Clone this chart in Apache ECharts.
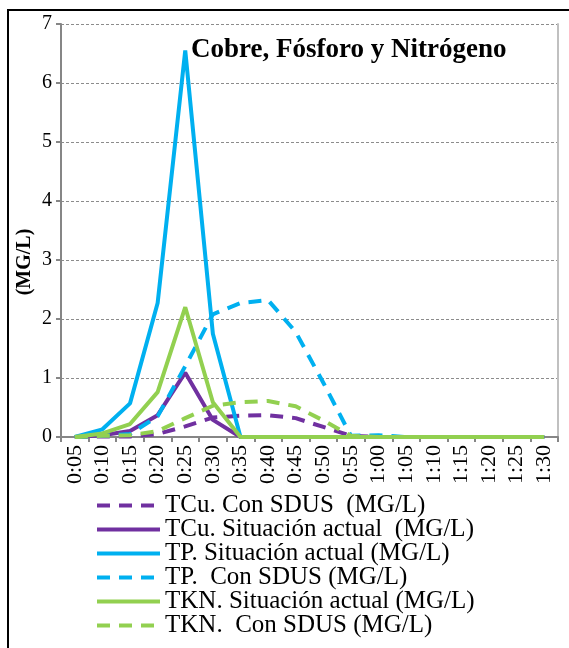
<!DOCTYPE html>
<html>
<head>
<meta charset="utf-8">
<script src="https://cdn.jsdelivr.net/npm/echarts@6/dist/echarts.min.js"></script>
<style>
  html, body { margin: 0; padding: 0; background: #fff; }
  #main { width: 569px; height: 648px; }
</style>
</head>
<body>
<div id="main"></div>
<script>
var times = ['0:05', '0:10', '0:15', '0:20', '0:25', '0:30', '0:35', '0:40', '0:45',
  '0:50', '0:55', '1:00', '1:05', '1:10', '1:15', '1:20', '1:25', '1:30'];

var tcuSdus = [0, 0.01, 0.01, 0.05, 0.18, 0.33, 0.36, 0.37, 0.32, 0.17, 0.02, 0, 0, 0, 0, 0, 0, 0];
var tcuActual = [0, 0.03, 0.1, 0.37, 1.09, 0.29, 0, 0, 0, 0, 0, 0, 0, 0, 0, 0, 0, 0];
var tpActual = [0, 0.13, 0.57, 2.27, 6.55, 1.75, 0, 0, 0, 0, 0, 0, 0, 0, 0, 0, 0, 0];
var tpSdus = [0, 0.02, 0.05, 0.35, 1.2, 2.08, 2.27, 2.32, 1.78, 0.92, 0.02, 0.03, 0, 0, 0, 0, 0, 0];
var tknActual = [0, 0.06, 0.22, 0.76, 2.2, 0.59, 0, 0, 0, 0, 0, 0, 0, 0, 0, 0, 0, 0];
var tknSdus = [0, 0.02, 0.03, 0.1, 0.32, 0.53, 0.59, 0.61, 0.52, 0.28, 0.02, 0, 0, 0, 0, 0, 0, 0];

var yTicks = [0, 1, 2, 3, 4, 5, 6, 7];

var purple = '#7030A0';
var cyan = '#00B0F0';
var green = '#92D050';
var serif = 'Liberation Serif';
var dash = [13, 9];

function line(name, data, color, dashed) {
  return {
    name: name,
    type: 'line',
    data: data,
    symbol: 'none',
    lineStyle: { color: color, width: 4, type: dashed ? dash : 'solid' },
    itemStyle: { color: color }
  };
}

var chart = echarts.init(document.getElementById('main'));
var option = {
  animation: false,
  title: {
    text: 'Cobre, Fósforo y Nitrógeno',
    left: 191,
    top: 37,
    padding: 0,
    textStyle: { fontFamily: serif, fontWeight: 'bold', fontSize: 27, color: '#000' }
  },
  grid: { left: 61, right: 11, top: 24, bottom: 211 },
  legend: {
    orient: 'vertical',
    left: 95,
    top: 493,
    padding: 0,
    itemWidth: 63,
    itemHeight: 14,
    itemGap: -1,
    itemStyle: { opacity: 0 },
    lineStyle: { width: 4 },
    textStyle: { fontFamily: serif, fontSize: 25, lineHeight: 24, color: '#000' },
    data: ['TCu. Con SDUS  (MG/L)', 'TCu. Situación actual  (MG/L)', 'TP. Situación actual (MG/L)',
      'TP.  Con SDUS (MG/L)', 'TKN. Situación actual (MG/L)', 'TKN.  Con SDUS (MG/L)']
  },
  xAxis: {
    type: 'category',
    data: times,
    boundaryGap: true,
    axisLine: { lineStyle: { color: '#868686', width: 2 } },
    axisTick: { show: true, length: 5, lineStyle: { color: '#868686', width: 2 } },
    axisLabel: { rotate: 90, margin: 8, fontFamily: serif, fontSize: 22, color: '#000', interval: 0 },
    splitLine: { show: false }
  },
  yAxis: [{
    type: 'value',
    min: yTicks[0],
    max: yTicks[yTicks.length - 1],
    interval: 1,
    axisLine: { show: true, lineStyle: { color: '#868686', width: 2 } },
    axisTick: { show: true, length: 5, lineStyle: { color: '#868686', width: 2 } },
    axisLabel: { margin: 9, fontFamily: serif, fontSize: 20, color: '#000' },
    splitLine: { show: true, lineStyle: { color: '#8c8c8c', width: 1, type: [3, 2] } }
  }, {
    type: 'value',
    position: 'right',
    min: 0,
    max: 7,
    interval: 1,
    axisLine: { show: true, lineStyle: { color: '#c0c0c0', width: 2 } },
    axisTick: { show: false },
    axisLabel: { show: false },
    splitLine: { show: false }
  }],
  graphic: [{
    type: 'rect',
    shape: { x: 8, y: 10, width: 700, height: 800 },
    style: { fill: 'none', stroke: '#000', lineWidth: 2 },
    silent: true
  }, {
    type: 'text',
    x: 25,
    y: 262,
    rotation: Math.PI / 2,
    style: {
      text: '(MG/L)',
      font: 'bold 20px "Liberation Serif"',
      fill: '#000',
      align: 'center',
      verticalAlign: 'middle'
    }
  }],
  series: [
    line('TCu. Con SDUS  (MG/L)', tcuSdus, purple, true),
    line('TCu. Situación actual  (MG/L)', tcuActual, purple, false),
    line('TP. Situación actual (MG/L)', tpActual, cyan, false),
    line('TP.  Con SDUS (MG/L)', tpSdus, cyan, true),
    line('TKN. Situación actual (MG/L)', tknActual, green, false),
    line('TKN.  Con SDUS (MG/L)', tknSdus, green, true)
  ]
};
chart.setOption(option);
</script>
</body>
</html>
